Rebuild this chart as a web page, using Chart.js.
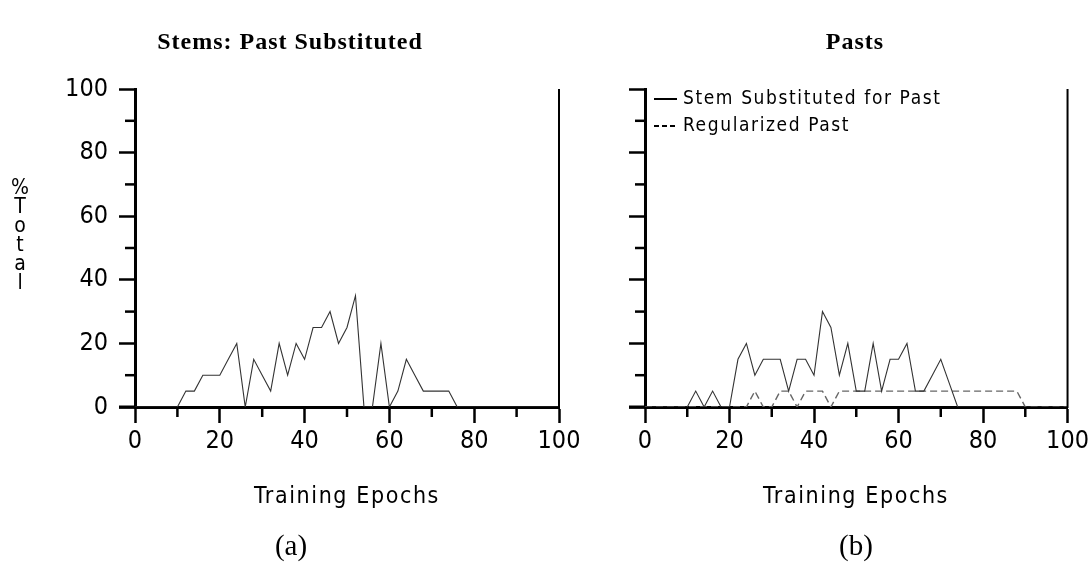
<!DOCTYPE html>
<html><head><meta charset="utf-8">
<script src="https://cdn.jsdelivr.net/npm/chart.js@4.4.1/dist/chart.umd.min.js"></script>
<style>
html,body{margin:0;padding:0;background:#fff;width:1092px;height:581px;overflow:hidden;}
canvas{position:absolute;top:0;}
#c1{left:0;}
#c2{left:590px;}
.t{position:absolute;white-space:nowrap;transform:translate(-50%,-50%);color:#000;}
.title{font:bold 24px "Liberation Serif";letter-spacing:1px;}
.axt{font:23px "DejaVu Sans Condensed","Liberation Sans",sans-serif;letter-spacing:1.6px;}
.cap{font:29px "Liberation Serif";}
#ylab{position:absolute;left:9px;top:178px;width:22px;text-align:center;font:21px "DejaVu Sans Condensed","Liberation Sans",sans-serif;line-height:19px;color:#000;}
</style></head>
<body>
<canvas id="c1" width="590" height="581"></canvas>
<canvas id="c2" width="502" height="581"></canvas>
<div class="t title" style="left:290px;top:41px;">Stems: Past Substituted</div>
<div class="t title" style="left:855px;top:41px;">Pasts</div>
<div id="ylab">%<br>T<br>o<br>t<br>a<br>l</div>
<div class="t axt" style="left:347px;top:495px;">Training Epochs</div>
<div class="t axt" style="left:856px;top:495px;">Training Epochs</div>
<div class="t cap" style="left:291px;top:545px;">(a)</div>
<div class="t cap" style="left:856px;top:545px;">(b)</div>
<script>
// ---- data ----
const EPOCHS = [0,2,4,6,8,10,12,14,16,18,20,22,24,26,28,30,32,34,36,38,40,42,44,46,48,50,52,54,56,58,60,62,64,66,68,70,72,74,76,78,80,82,84,86,88,90,92,94,96,98,100];
const STEMS_PAST_SUBSTITUTED = [0,0,0,0,0,0,5,5,10,10,10,15,20,0,15,10,5,20,10,20,15,25,25,30,20,25,35,0,0,20,0,5,15,10,5,5,5,5,0,0,0,0,0,0,0,0,0,0,0,0,0];
const PASTS_STEM_SUBSTITUTED = [0,0,0,0,0,0,5,0,5,0,0,15,20,10,15,15,15,5,15,15,10,30,25,10,20,5,5,20,5,15,15,20,5,5,10,15,7.5,0,0,0,0,0,0,0,0,0,0,0,0,0,0];
const PASTS_REGULARIZED = [0,0,0,0,0,0,0,0,0,0,0,0,0,5,0,0,5,5,0,5,5,5,0,5,5,5,5,5,5,5,5,5,5,5,5,5,5,5,5,5,5,5,5,5,5,0,0,0,0,0,0];
const X_TICKS = [0,20,40,60,80,100];
const Y_TICKS = [0,20,40,60,80,100];
const MINOR_TICKS = [10,30,50,70,90];
const LEGEND_LABELS = ['Stem Substituted for Past','Regularized Past'];

const SANS = '"DejaVu Sans Condensed","Liberation Sans",sans-serif';
const toXY = vals => EPOCHS.map((e,i)=>({x:e,y:vals[i]}));

const frame = {
  id:'frame',
  afterDraw(chart){
    const {ctx, chartArea:a, scales:{x,y}} = chart;
    ctx.save();
    ctx.strokeStyle='#000';
    const ln=(x1,y1,x2,y2)=>{ctx.beginPath();ctx.moveTo(x1,y1);ctx.lineTo(x2,y2);ctx.stroke();};
    ctx.lineWidth=2.5;
    MINOR_TICKS.forEach(v=>{
      const px=x.getPixelForValue(v); ln(px,a.bottom,px,a.bottom+10);
      const py=y.getPixelForValue(v); ln(a.left-10,py,a.left,py);
    });
    ctx.lineWidth=3; ln(a.left-16,a.bottom,a.left,a.bottom);
    ctx.lineWidth=2; ln(a.right,a.top,a.right,a.bottom+1);
    ctx.restore();
  }
};

const legendPlugin = {
  id:'legendBox',
  afterDraw(chart){
    const o = chart.options.plugins.legendBox;
    if(!o || !o.show) return;
    const {ctx, chartArea:a} = chart;
    ctx.save();
    chart.data.datasets.forEach((ds,i)=>{
      const yy = a.top + 10 + i*27;
      ctx.strokeStyle = '#000';
      ctx.lineWidth = 2;
      ctx.setLineDash(ds.borderDash && ds.borderDash.length ? [5,3] : []);
      ctx.beginPath(); ctx.moveTo(a.left+9,yy); ctx.lineTo(a.left+32,yy); ctx.stroke();
      ctx.setLineDash([]);
      ctx.fillStyle='#000';
      ctx.font='19px '+SANS;
      ctx.letterSpacing='1.6px';
      ctx.textBaseline='middle';
      ctx.fillText(ds.label, a.left+38, yy);
    });
    ctx.restore();
  }
};

function makeOptions(showYLabels, padRight, showLegend){
  const tickFont = {family:SANS, size:25};
  return {
    responsive:false, animation:false, devicePixelRatio:1,
    layout:{padding:{left:0,right:padRight,top:89,bottom:0}},
    plugins:{legend:{display:false}, tooltip:{enabled:false}, title:{display:false}, legendBox:{show:showLegend}},
    elements:{point:{radius:0}, line:{tension:0}},
    scales:{
      x:{type:'linear',min:0,max:100,z:1,
        afterBuildTicks:s=>{s.ticks=X_TICKS.map(v=>({value:v}));},
        afterFit:s=>{s.height=174;},
        ticks:{font:tickFont,color:'#000',padding:3,maxRotation:0,autoSkip:false},
        grid:{display:true,drawOnChartArea:false,drawTicks:true,tickLength:16,tickWidth:2.5,tickColor:'#000'},
        border:{display:true,width:3,color:'#000'}},
      y:{type:'linear',min:0,max:100,z:1,
        afterBuildTicks:s=>{s.ticks=Y_TICKS.map(v=>({value:v}));},
        afterFit:s=>{s.width=showYLabels?135:55;},
        ticks:{display:showYLabels,font:tickFont,color:'#000',padding:11},
        grid:{display:true,drawOnChartArea:false,drawTicks:true,tickLength:16,tickWidth:2.5,tickColor:'#000'},
        border:{display:true,width:3,color:'#000'}}
    }
  };
}

new Chart(document.getElementById('c1'),{
  type:'line',
  data:{datasets:[{label:'Stems: Past Substituted',data:toXY(STEMS_PAST_SUBSTITUTED),borderColor:'#333',borderWidth:1.1,fill:false}]},
  options:makeOptions(true,31,false),
  plugins:[frame]
});
new Chart(document.getElementById('c2'),{
  type:'line',
  data:{datasets:[
    {label:LEGEND_LABELS[0],data:toXY(PASTS_STEM_SUBSTITUTED),borderColor:'#333',borderWidth:1.1,fill:false},
    {label:LEGEND_LABELS[1],data:toXY(PASTS_REGULARIZED),borderColor:'#666',borderWidth:1.4,borderDash:[7,4],fill:false}
  ]},
  options:makeOptions(false,23,true),
  plugins:[frame, legendPlugin]
});
</script>
</body></html>
